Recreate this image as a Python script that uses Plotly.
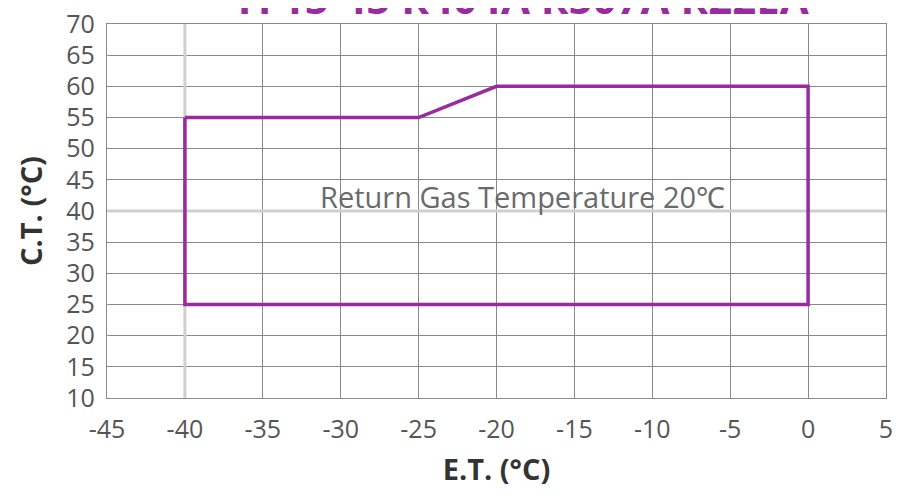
import plotly.graph_objects as go

# envelope outline (E.T. vs C.T.)
env_et = [-40, -25, -20, 0, 0, -40, -40]
env_ct = [55, 55, 60, 60, 25, 25, 55]

x_ticks = [-45, -40, -35, -30, -25, -20, -15, -10, -5, 0, 5]
x_labels = ["-45", "-40", "-35", "-30", "-25", "-20", "-15", "-10", "-5", "0", "5"]
y_ticks = [10, 15, 20, 25, 30, 35, 40, 45, 50, 55, 60, 65, 70]

title_text = "YF15-45 R404A R507A R22EA"
note_text = "Return Gas Temperature 20℃"
purple = "#9a2aa0"
grid = "#8a8a8a"

fig = go.Figure()
fig.add_trace(go.Scatter(x=env_et, y=env_ct, mode="lines",
                         line=dict(color=purple, width=3.5), hoverinfo="skip"))

# lighter reference gridlines
fig.add_shape(type="line", x0=-40, x1=-40, y0=10, y1=70, layer="between",
              line=dict(color="#cfcfcf", width=3))
fig.add_shape(type="line", x0=-45, x1=5, y0=40, y1=40, layer="between",
              line=dict(color="#cfcfcf", width=3))

fig.add_annotation(x=-18.3, y=42.4, text=note_text, showarrow=False,
                   font=dict(size=29, color="#6a6a6a"))

# page body adds 8px on each side, so the figure is sized to fit without scrolling
fig.update_layout(
    width=886, height=481,
    margin=dict(l=99, r=8, t=16, b=91),
    plot_bgcolor="white", paper_bgcolor="white",
    showlegend=False,
    font=dict(family="Open Sans", color="#555"),
    title=dict(text="<b>" + title_text + "</b>", x=0.578, xanchor="center", y=1.0, yanchor="bottom",
               yref="container", pad=dict(b=-6),
               font=dict(size=42, color=purple, family="Open Sans")),
)
fig.update_xaxes(range=[-45, 5], tickvals=x_ticks, ticktext=x_labels, ticks="",
                 tickfont=dict(size=25, color="#555"), automargin=False,
                 ticklabelstandoff=9, ticklabeloverflow="allow",
                 showgrid=True, gridcolor=grid, gridwidth=1.3, zeroline=False,
                 showline=True, linecolor=grid, linewidth=1.3, mirror=True,
                 title=dict(text="<b>E.T. (°C)</b>", font=dict(size=29, color="#333")))
fig.update_yaxes(range=[10, 70], tickvals=y_ticks, ticks="", ticklabelstandoff=6,
                 tickfont=dict(size=25, color="#555"), automargin=False,
                 ticklabeloverflow="allow",
                 showgrid=True, gridcolor=grid, gridwidth=1.3, zeroline=False,
                 showline=True, linecolor=grid, linewidth=1.3, mirror=True,
                 title=dict(text="<b>C.T. (°C)</b>", font=dict(size=29, color="#333")))

fig.write_html("out.html")
